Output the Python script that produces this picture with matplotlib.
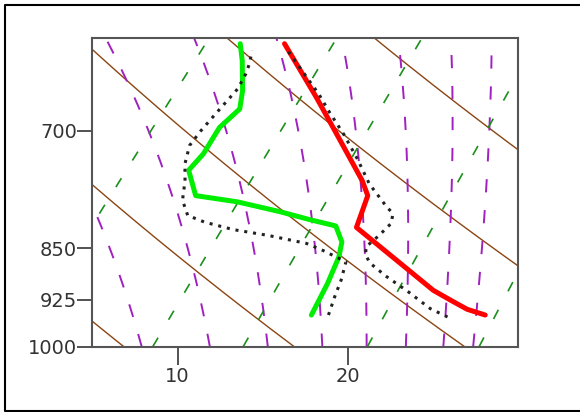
import numpy as np
import matplotlib
matplotlib.use("Agg")
import matplotlib.pyplot as plt
from matplotlib.transforms import Affine2D
from matplotlib.lines import Line2D

plt.rcParams['lines.scale_dashes'] = False

# observed sounding (pressure hPa, temperature degC)
temp_p = [949, 940, 926, 911, 867, 821, 779, 760, 699, 662, 606]
temp_t = [26.2, 24.8, 23.3, 21.7, 17.8, 13.5, 12.3, 11.1, 6.5, 3.5, -1.5]

dwpt_p = [949, 901, 862, 841, 819, 811, 800, 787, 779, 747, 727, 696, 675, 655, 623, 606]
dwpt_t = [16.0, 15.1, 14.2, 13.5, 12.2, 10.4, 8.1, 5.0, 2.2, 0.3, 0.2, -0.4, -0.3, -1.2, -3.0, -4.1]

# second profile (dotted)
mod_t_p = [952, 939, 913, 890, 871, 860, 848, 832, 815, 802, 794, 764, 734, 704, 678, 659, 611]
mod_t_t = [24.1, 22.6, 20.3, 18.1, 16.4, 15.7, 15.2, 15.3, 15.3, 14.8, 14.1, 11.7, 9.6, 7.3, 5.1, 3.5, -1.1]

mod_d_p = [949, 921, 896, 869, 853, 843, 832, 824, 814, 805, 785, 760, 739, 717, 700, 685, 669, 653, 637, 626, 613]
mod_d_t = [17.0, 16.3, 15.7, 14.9, 12.9, 11.5, 8.8, 6.4, 4.3, 2.9, 1.7, 0.7, -0.3, -1.1, -1.3, -1.4, -1.5, -1.6, -2.0, -2.4, -3.0]

# reference lines
dry_theta = [270, 280, 290, 300, 310, 320, 330]          # K
moist_t1000 = [7.9, 11.9, 15.3, 18.5, 21.1, 23.4, 25.6, 27.35]  # degC at 1000 hPa
mix_ratio = [1, 2, 4, 7, 10, 16, 24, 32]                 # g/kg

p_ticks = [1000, 925, 850, 700]
t_ticks = [10, 20]


def moist_lapse(T, p):
    es = 6.112 * np.exp(17.67 * (T - 273.15) / (T - 29.65))
    rs = 0.622 * es / (p - es)
    num = (287.04 * T + 2.501e6 * rs) / p
    den = 1005.7 + (2.501e6 ** 2 * rs * 0.622) / (287.04 * T * T)
    return num / den


def moist_adiabat(t0, pres):
    out = [t0 + 273.15]
    for i in range(1, len(pres)):
        T, p, h = out[-1], pres[i - 1], pres[i] - pres[i - 1]
        k1 = moist_lapse(T, p)
        k2 = moist_lapse(T + h * k1 / 2, p + h / 2)
        k3 = moist_lapse(T + h * k2 / 2, p + h / 2)
        k4 = moist_lapse(T + h * k3, p + h)
        out.append(T + h * (k1 + 2 * k2 + 2 * k3 + k4) / 6)
    return np.array(out) - 273.15


fig = plt.figure(figsize=(5.8, 4.12), dpi=100)
ax = fig.add_axes([92.3 / 580, 65.3 / 412, 426 / 580, 309 / 412])
ax.set_yscale('log')
ax.set_xlim(5, 30)
ax.set_ylim(1000, 600)
ax.set_autoscale_on(False)

# skew the data in display space, 45 degrees, anchored at 1000 hPa
y0 = ax.transData.transform((0, 1000))[1]
skew = ax.transData + Affine2D().translate(0, -y0).skew_deg(45, 0).translate(0, y0)

pres = np.linspace(1000, 590, 206)

for th in dry_theta:
    ax.plot(th * (pres / 1000) ** 0.2857 - 273.15, pres, color='#8b4513', lw=1.0,
            transform=skew, zorder=2)

for t0 in moist_t1000:
    ax.plot(moist_adiabat(t0, pres), pres, color='#a020c0', lw=1.4,
            ls=(0, (9.5, 12.8)), transform=skew, zorder=2)

for w in mix_ratio:
    e = pres * w / (622 + w)
    le = np.log(e / 6.112)
    ax.plot(243.5 * le / (17.67 - le), pres, color='#1a8f1a', lw=1.2,
            ls=(0, (7.5, 15.0)), transform=skew, zorder=2)

ax.plot(temp_t, temp_p, color='#ff0000', lw=3.6, solid_joinstyle='round',
        solid_capstyle='round', transform=skew, zorder=4)
ax.plot(dwpt_t, dwpt_p, color='#00ee00', lw=3.6, solid_joinstyle='round',
        solid_capstyle='round', transform=skew, zorder=4)
ax.plot(mod_t_t, mod_t_p, color='#222222', lw=2.2, ls=(0, (2.2, 4.2)),
        dash_capstyle='butt', transform=skew, zorder=5)
ax.plot(mod_d_t, mod_d_p, color='#222222', lw=2.2, ls=(0, (2.2, 4.2)),
        dash_capstyle='butt', transform=skew, zorder=5)

ax.yaxis.set_minor_locator(matplotlib.ticker.NullLocator())
ax.set_yticks(p_ticks)
ax.set_yticklabels([str(p) for p in p_ticks])
ax.set_xticks(t_ticks)
ax.set_xticklabels([str(t) for t in t_ticks])
ax.tick_params(axis='y', length=11, width=1.3, color='#444444', pad=0,
               labelsize=14, labelcolor='#333333')
ax.tick_params(axis='x', length=13, width=1.3, color='#444444', pad=1.5,
               labelsize=14, labelcolor='#333333')
for s in ax.spines.values():
    s.set_color('#555555')
    s.set_linewidth(1.5)

# outer frame, open on the right (cut off by the image edge)
fx, ft, fb = 5 / 580, 1 - 5 / 412, 1.5 / 412
fig.add_artist(Line2D([1.05, fx, fx, 1.05], [ft, ft, fb, fb], transform=fig.transFigure,
                      color='black', lw=1.5))

fig.savefig('out.png', dpi=100)
